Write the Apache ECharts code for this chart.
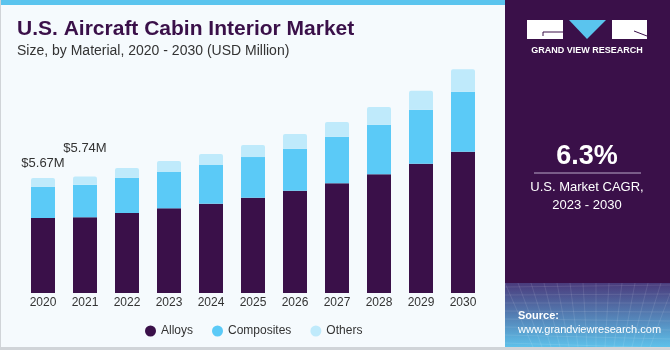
<!DOCTYPE html>
<html lang="en">
<head>
    <meta charset="UTF-8">
    <title>U.S. Aircraft Cabin Interior Market</title>
    <script src="https://cdn.jsdelivr.net/npm/echarts@6/dist/echarts.min.js"></script>
    <style>
        html, body { margin: 0; padding: 0; }
        #chart { width: 670px; height: 350px; }
    </style>
</head>
<body>
    <div id="chart"></div>
    <script>
        // values (USD million)
        var years = ['2020', '2021', '2022', '2023', '2024', '2025', '2026', '2027', '2028', '2029', '2030']
        var alloys = [3698, 3735, 3944, 4176, 4403, 4698, 5044, 5408, 5852, 6375, 6966]
        var composites = [1543, 1600, 1740, 1790, 1908, 2007, 2071, 2297, 2445, 2662, 2958]
        var others = [429, 405, 478, 542, 542, 592, 725, 725, 873, 937, 1104]
        var topLabels = ['$5.67M', '$5.74M']

        var purple = '#3a1049'
        var font = 'Liberation Sans'

        // only first two bars carry a total label
        var othersData = others.map(function (v, i) {
            if (i >= topLabels.length) return v
            return {
                value: v,
                label: {
                    show: true, position: 'top', formatter: topLabels[i],
                    distance: i === 0 ? 8 : 22,
                    color: '#333', fontSize: 13, fontFamily: font
                }
            }
        })

        // faint grid texture in the source box
        var mesh = []
        for (var i = 0; i < 14; i++) {
            mesh.push({
                type: 'line', silent: true,
                shape: { x1: 505 + i * 13, y1: 283, x2: 505 + i * 13 - (i - 7) * 4, y2: 347 },
                style: { stroke: 'rgba(255,255,255,0.1)', lineWidth: 1 }
            })
        }
        for (var j = 0; j < 8; j++) {
            mesh.push({
                type: 'line', silent: true,
                shape: { x1: 505, y1: 287 + j * 8, x2: 670, y2: 285 + j * 8 + j },
                style: { stroke: 'rgba(255,255,255,0.1)', lineWidth: 1 }
            })
        }

        var chart = echarts.init(document.getElementById('chart'))
        var option = {
            backgroundColor: '#f5fafd',
            animation: false,
            graphic: [
                { type: 'rect', shape: { x: 0, y: 0, width: 505, height: 5 }, style: { fill: '#5ac4ee' } },
                { type: 'rect', shape: { x: 0, y: 0, width: 1, height: 350 }, style: { fill: '#d0d4d8' } },
                { type: 'rect', shape: { x: 0, y: 347, width: 670, height: 3 }, style: { fill: '#d0d4d8' } },
                { type: 'rect', shape: { x: 505, y: 0, width: 165, height: 347 }, style: { fill: purple } },
                {
                    type: 'rect', shape: { x: 505, y: 283, width: 165, height: 64 },
                    style: {
                        fill: new echarts.graphic.LinearGradient(0, 0, 0, 1, [
                            { offset: 0, color: '#4a3b7c' },
                            { offset: 1, color: '#5ec1ea' }
                        ])
                    }
                },
                // logo
                { type: 'rect', shape: { x: 527, y: 20, width: 36, height: 19 }, style: { fill: '#fff' } },
                { type: 'polygon', shape: { points: [[569, 20], [606, 20], [587, 39]] }, style: { fill: '#5ac4ee' } },
                { type: 'rect', shape: { x: 612, y: 20, width: 35, height: 19 }, style: { fill: '#fff' } },
                { type: 'line', shape: { x1: 543, y1: 32, x2: 563, y2: 32 }, style: { stroke: purple, lineWidth: 1 } },
                { type: 'line', shape: { x1: 543, y1: 32, x2: 543, y2: 36 }, style: { stroke: purple, lineWidth: 1 } },
                { type: 'line', shape: { x1: 634, y1: 31, x2: 647, y2: 36 }, style: { stroke: purple, lineWidth: 1 } },
                {
                    type: 'text', x: 587, y: 51,
                    style: { text: 'GRAND VIEW RESEARCH', fill: '#fff', font: 'bold 9px ' + font, textAlign: 'center', textVerticalAlign: 'middle' }
                },
                // CAGR box
                {
                    type: 'text', x: 587, y: 157,
                    style: { text: '6.3%', fill: '#fff', font: 'bold 27px ' + font, textAlign: 'center', textVerticalAlign: 'middle' }
                },
                { type: 'line', shape: { x1: 534, y1: 173, x2: 641, y2: 173 }, style: { stroke: '#b9a9c9', lineWidth: 1 } },
                {
                    type: 'text', x: 587, y: 196,
                    style: { text: 'U.S. Market CAGR,\n2023 - 2030', fill: '#fff', font: '13px ' + font, lineHeight: 18, textAlign: 'center', textVerticalAlign: 'middle' }
                }
            ].concat(mesh).concat([
                {
                    type: 'text', x: 518, y: 316,
                    style: { text: 'Source:', fill: '#fff', font: 'bold 11px ' + font, textVerticalAlign: 'middle' }
                },
                {
                    type: 'text', x: 518, y: 330,
                    style: { text: 'www.grandviewresearch.com', fill: '#fff', font: '11px ' + font, textVerticalAlign: 'middle' }
                }
            ]),
            title: {
                text: 'U.S. Aircraft Cabin Interior Market',
                subtext: 'Size, by Material, 2020 - 2030 (USD Million)',
                left: 12, top: 14, itemGap: 4,
                textStyle: { color: purple, fontSize: 21, fontWeight: 'bold', fontFamily: font },
                subtextStyle: { color: '#333', fontSize: 14, fontFamily: font }
            },
            legend: {
                left: 140, top: 320, itemGap: 19, itemWidth: 11, itemHeight: 11,
                icon: 'circle',
                textStyle: { color: '#333', fontSize: 12, fontFamily: font },
                data: ['Alloys', 'Composites', 'Others']
            },
            grid: { left: 22, right: 186, top: 60, bottom: 57 },
            xAxis: {
                type: 'category', data: years,
                axisLine: { show: false }, axisTick: { show: false },
                axisLabel: { color: '#333', fontSize: 12, fontFamily: font, margin: 4 }
            },
            yAxis: { type: 'value', min: 0, max: 11490, show: false, splitLine: { show: false } },
            series: [
                { name: 'Alloys', type: 'bar', stack: 'total', data: alloys, barWidth: 24, itemStyle: { color: purple } },
                { name: 'Composites', type: 'bar', stack: 'total', data: composites, itemStyle: { color: '#5bcaf7' } },
                { name: 'Others', type: 'bar', stack: 'total', data: othersData, itemStyle: { color: '#bfeafb', borderRadius: [2, 2, 0, 0] } }
            ]
        }
        chart.setOption(option)
    </script>
</body>
</html>
